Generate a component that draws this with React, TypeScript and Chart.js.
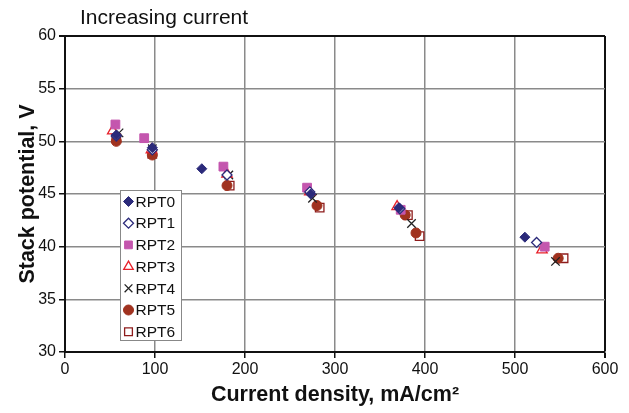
import React, { useEffect, useRef } from 'react';
import { Chart, registerables } from 'chart.js';
import { drawPoint } from 'chart.js/helpers';

Chart.register(...registerables);

const chartTitle = 'Increasing current';
const xTitle = 'Current density, mA/cm²';
const yTitle = 'Stack potential, V';
const xTicks = [0, 100, 200, 300, 400, 500, 600];
const yTicks = [30, 35, 40, 45, 50, 55, 60];

const seriesNames = ['RPT0', 'RPT1', 'RPT2', 'RPT3', 'RPT4', 'RPT5', 'RPT6'];

const rpt0X = [57, 97, 152, 273, 371, 511];
const rpt0Y = [50.6, 49.4, 47.4, 45.0, 43.7, 40.9];
const rpt1X = [57, 97, 180, 272, 372, 524];
const rpt1Y = [50.5, 49.2, 46.8, 45.2, 43.6, 40.4];
const rpt2X = [56, 88, 176, 269, 373, 533];
const rpt2Y = [51.6, 50.3, 47.6, 45.6, 43.5, 40.0];
const rpt3X = [53, 96, 180, 272, 369, 530];
const rpt3Y = [51.0, 49.2, 46.9, 45.2, 43.8, 39.7];
const rpt4X = [60, 97, 182, 275, 385, 545];
const rpt4Y = [50.8, 49.3, 46.8, 44.6, 42.2, 38.6];
const rpt5X = [57, 97, 180, 280, 378, 390, 548];
const rpt5Y = [50.0, 48.7, 45.8, 43.9, 43.0, 41.3, 38.9];
const rpt6X = [57, 97, 183, 283, 381, 394, 554];
const rpt6Y = [50.3, 48.8, 45.8, 43.7, 43.0, 41.0, 38.9];

const seriesX = [rpt0X, rpt1X, rpt2X, rpt3X, rpt4X, rpt5X, rpt6X];
const seriesY = [rpt0Y, rpt1Y, rpt2Y, rpt3Y, rpt4Y, rpt5Y, rpt6Y];

const styles = [
  { pointStyle: 'rectRot', bg: '#2B2A7A', border: '#2B2A7A', radius: 5, bw: 1 },
  { pointStyle: 'rectRot', bg: '#FFFFFF', border: '#2B2A7A', radius: 5, bw: 1.3 },
  { pointStyle: 'rect', bg: '#C456AE', border: '#C456AE', radius: 6.2, bw: 1 },
  { pointStyle: 'triangle', bg: 'rgba(255,255,255,0.6)', border: '#E8202A', radius: 6, bw: 1.3 },
  { pointStyle: 'crossRot', bg: '#222222', border: '#222222', radius: 6, bw: 1.3 },
  { pointStyle: 'circle', bg: '#A0321F', border: '#A0321F', radius: 5, bw: 1 },
  { pointStyle: 'rect', bg: 'rgba(255,255,255,0.6)', border: '#8E1C1C', radius: 6, bw: 1.3 },
];

const FONT = "'Liberation Sans', Arial, sans-serif";

const overlayPlugin = {
  id: 'overlay',
  afterDraw(chart: any) {
    const ctx = chart.ctx;
    const area = chart.chartArea;
    ctx.save();
    // title
    ctx.fillStyle = '#111';
    ctx.font = `21px ${FONT}`;
    ctx.textAlign = 'left';
    ctx.textBaseline = 'middle';
    ctx.fillText(chartTitle, area.left + 15, 18);
    // legend box
    const bx = area.left + 55.5;
    const by = area.top + 154.5;
    const bw = 61;
    const bh = 150;
    ctx.fillStyle = '#FFFFFF';
    ctx.fillRect(bx, by, bw, bh);
    ctx.strokeStyle = '#888';
    ctx.lineWidth = 1;
    ctx.strokeRect(bx, by, bw, bh);
    const rowH = 21.7;
    seriesNames.forEach((name, i) => {
      const cy = by + 11 + i * rowH;
      const s = styles[i];
      ctx.fillStyle = s.bg;
      ctx.strokeStyle = s.border;
      ctx.lineWidth = s.bw;
      drawPoint(ctx, { pointStyle: s.pointStyle, radius: Math.min(s.radius, 5.5), rotation: 0, borderWidth: s.bw }, bx + 8, cy);
      ctx.fillStyle = '#111';
      ctx.font = `15.5px ${FONT}`;
      ctx.textAlign = 'left';
      ctx.textBaseline = 'middle';
      ctx.fillText(name, bx + 15, cy + 1);
    });
    ctx.restore();
  },
};

export default function App() {
  const ref = useRef<HTMLCanvasElement>(null);
  useEffect(() => {
    document.body.style.margin = '0';
    const canvas = ref.current;
    if (!canvas) return;
    const datasets = seriesNames.map((name, i) => ({
      label: name,
      data: seriesX[i].map((x, j) => ({ x, y: seriesY[i][j] })),
      pointStyle: styles[i].pointStyle,
      backgroundColor: styles[i].bg,
      borderColor: styles[i].border,
      pointRadius: styles[i].radius,
      pointBorderWidth: styles[i].bw,
      showLine: false,
    }));
    const chart = new Chart(canvas, {
      type: 'scatter',
      data: { datasets },
      plugins: [overlayPlugin],
      options: {
        animation: false,
        responsive: false,
        layout: { padding: { top: 36, right: 24, left: 0, bottom: 0 } },
        plugins: { legend: { display: false }, tooltip: { enabled: false }, title: { display: false } },
        scales: {
          x: {
            type: 'linear',
            min: 0,
            max: 600,
            afterFit: (s: any) => { s.height = 61; },
            afterBuildTicks: (s: any) => { s.ticks = xTicks.map((v) => ({ value: v })); },
            ticks: { color: '#111', font: { family: FONT, size: 16 }, padding: 2 },
            grid: {
              color: (c: any) => (c.tick && c.tick.value === 600 ? '#111' : '#8a8a8a'),
              lineWidth: (c: any) => (c.tick && c.tick.value === 600 ? 2 : 1.5),
              tickColor: '#111',
              tickLength: 6,
            },
            border: { color: '#111', width: 2 },
            title: { display: true, text: xTitle, color: '#111', font: { family: FONT, size: 21.5, weight: 'bold' }, padding: { top: 0, bottom: 5 } },
          },
          y: {
            type: 'linear',
            min: 30,
            max: 60,
            afterFit: (s: any) => { s.width = 65; },
            afterBuildTicks: (s: any) => { s.ticks = yTicks.map((v) => ({ value: v })); },
            ticks: { color: '#111', font: { family: FONT, size: 16 }, padding: 3 },
            grid: {
              color: (c: any) => (c.tick && c.tick.value === 60 ? '#111' : '#8a8a8a'),
              lineWidth: (c: any) => (c.tick && c.tick.value === 60 ? 2 : 1.5),
              tickColor: '#111',
              tickLength: 6,
            },
            border: { color: '#111', width: 2 },
            title: { display: true, text: yTitle, color: '#111', font: { family: FONT, size: 21.5, weight: 'bold' }, padding: { top: 15, bottom: 0 } },
          },
        },
      },
    } as any);
    return () => chart.destroy();
  }, []);
  return (
    <div style={{ width: 629, height: 413 }}>
      <canvas ref={ref} width={629} height={413} style={{ display: 'block' }} />
    </div>
  );
}
